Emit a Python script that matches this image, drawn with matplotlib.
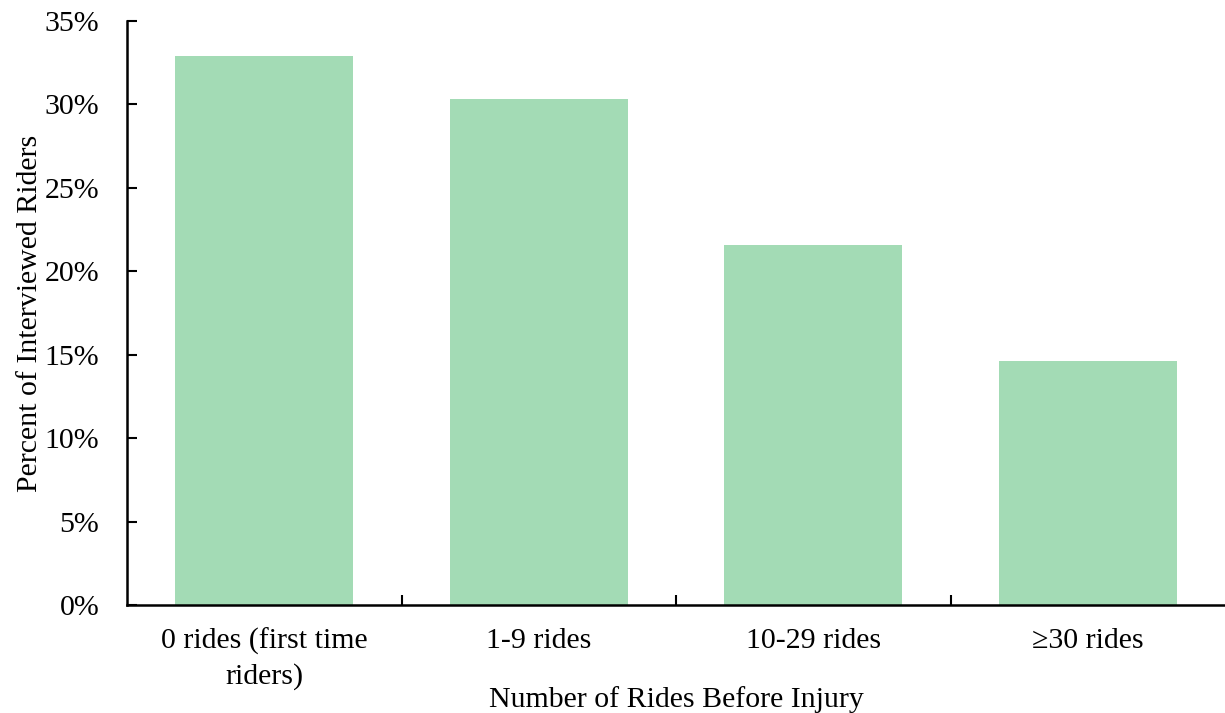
import matplotlib
matplotlib.use("Agg")
import matplotlib.pyplot as plt
from matplotlib.ticker import FuncFormatter

# values
categories = ["0 rides (first time\nriders)", "1-9 rides", "10-29 rides", "\u226530 rides"]
percents = [32.9, 30.3, 21.6, 14.6]
yticks = [0, 5, 10, 15, 20, 25, 30, 35]

plt.rcParams["font.family"] = ["Liberation Serif", "DejaVu Serif"]
FS = 21.5

fig = plt.figure(figsize=(12.25, 7.13), dpi=100)
ax = fig.add_axes([0.1037, 0.1515, 0.8963, 0.819])

x = range(len(categories))
ax.bar(x, percents, width=0.65, color="#A3DBB5")

ax.set_xlim(-0.5, len(categories) - 0.5)
ax.set_ylim(0, 35)
ax.set_yticks(yticks)
ax.yaxis.set_major_formatter(FuncFormatter(lambda v, _: f"{v:.0f}%"))

# category boundaries carry the x ticks, labels sit in the middle
ax.set_xticks([i + 0.5 for i in range(len(categories) - 1)])
ax.set_xticklabels([])
ax.set_xticks(list(x), minor=True)
ax.set_xticklabels(categories, minor=True, fontsize=FS, linespacing=1.37)
ax.tick_params(axis="x", which="minor", length=0, pad=16.5)
ax.tick_params(axis="x", which="major", direction="in", length=7, width=1.5)
ax.tick_params(axis="y", direction="in", length=7, width=1.5, labelsize=FS, pad=20)

for side in ["top", "right"]:
    ax.spines[side].set_visible(False)
for side in ["left", "bottom"]:
    ax.spines[side].set_linewidth(1.8)

ax.set_xlabel("Number of Rides Before Injury", fontsize=FS)
ax.xaxis.set_label_coords(0.5, -0.138)
ax.set_ylabel("Percent of Interviewed Riders", fontsize=FS, labelpad=1)

fig.savefig("out.png", dpi=100)
